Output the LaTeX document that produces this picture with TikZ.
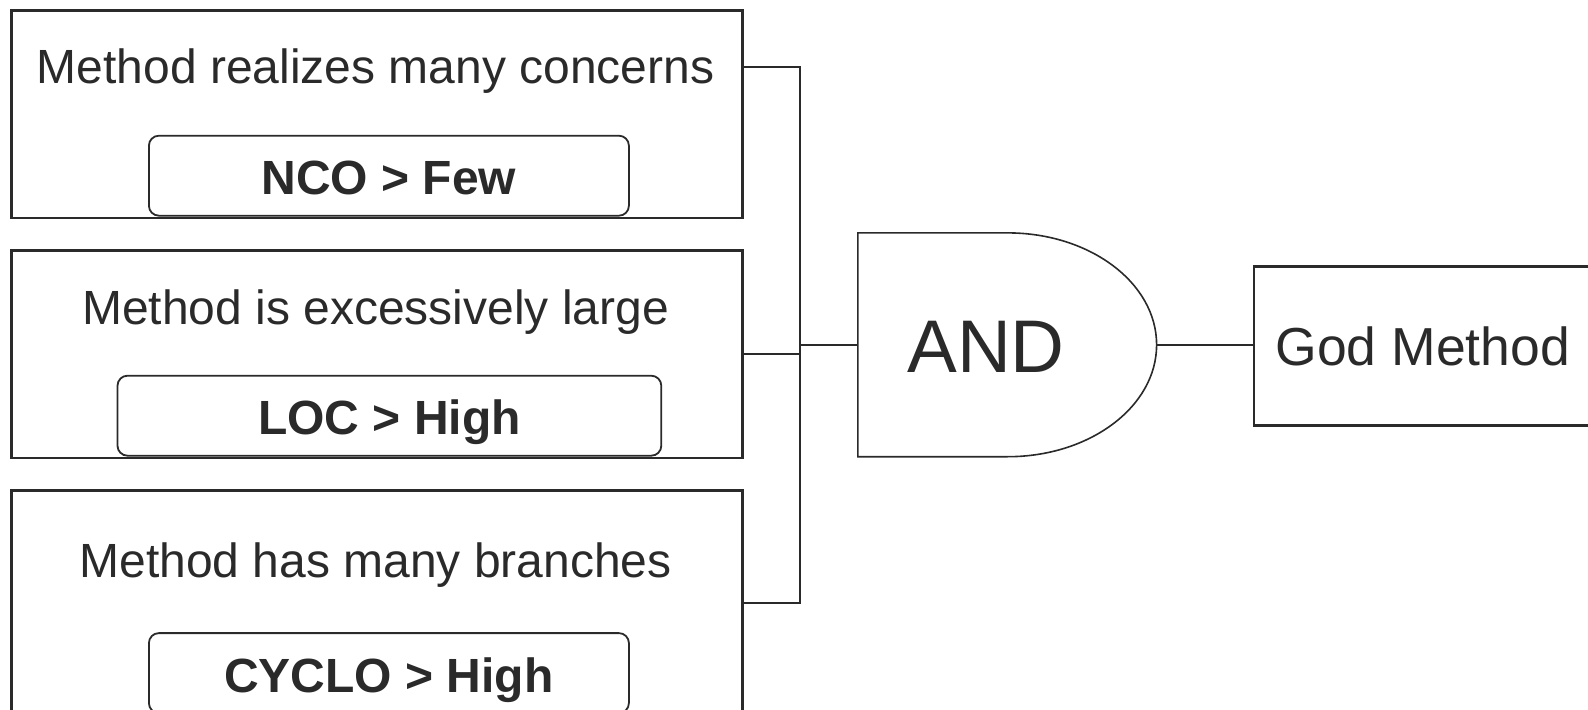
\documentclass[tikz,border=0pt]{standalone}
\usepackage{fontspec}
\setmainfont{Liberation Sans}
\definecolor{ink}{HTML}{2A2A2A}
\begin{document}
\begin{tikzpicture}[
    x=0.5pt, y=-0.5pt,
    every node/.style={text=ink},
    cond/.style={draw=ink, line width=1.3pt, anchor=north west, minimum width=365.6pt, minimum height=103.8pt, inner sep=0pt},
    title/.style={anchor=base, font=\fontsize{24pt}{28pt}\selectfont},
    metric/.style={draw=ink, line width=0.9pt, rounded corners=5pt, anchor=south, minimum height=40pt, inner sep=0pt, text height=19pt, text depth=0pt, font=\fontsize{24pt}{28pt}\selectfont\bfseries},
    wire/.style={draw=ink, line width=1pt}
    ]
	\clip (0,0) rectangle (1588,710);
	\node [cond] (box1) at (10,9) {};
	\node [cond] (box2) at (10,249) {};
	\node [cond, minimum height=112.5pt] (box3) at (10,489) {};
	\node [title] (t1) at (375.5,84) {Method realizes many concerns};
	\node [title] (t2) at (375.5,325) {Method is excessively large};
	\node [title] (t3) at (375.5,577) {Method has many branches};
	\node [metric, minimum width=240pt] (nco) at (388.9,216.6) {NCO > Few};
	\node [metric, minimum width=271.9pt] (loc) at (389.4,456.6) {LOC > High};
	\node [metric, minimum width=240pt] (cyclo) at (388.9,714) {CYCLO > High};
	% and gate
	\draw [draw=ink, line width=0.8pt] (857.8,232.9) -- (1007.7,232.9)
		arc [start angle=90, end angle=-90, x radius=74.45pt, y radius=55.95pt]
		-- (857.8,456.8) -- cycle;
	\node [anchor=base, font=\fontsize{37.3pt}{44pt}\selectfont] (gate) at (986,373) {AND};
	\coordinate (jn) at (800,345);
	\coordinate (gin) at (857.8,345);
	\coordinate (gout) at (1156.6,345);
	\node [draw=ink, line width=1.3pt, anchor=north west, minimum width=168.6pt, minimum height=79.5pt, inner sep=0pt, text height=19.5pt, text depth=0pt, font=\fontsize{26.75pt}{32pt}\selectfont] (god) at (1252.8,265.5) {God Method};
	\draw [wire] ([yshift=-28.9pt]box1.north east) -| (jn |- box3.east) -- (box3.east);
	\draw [wire] (box2.east) -- (jn |- box2.east);
	\draw [wire] (jn) -- (gin);
	\draw [wire] (gout) -- (gout -| god.west);
\end{tikzpicture}
\end{document}
